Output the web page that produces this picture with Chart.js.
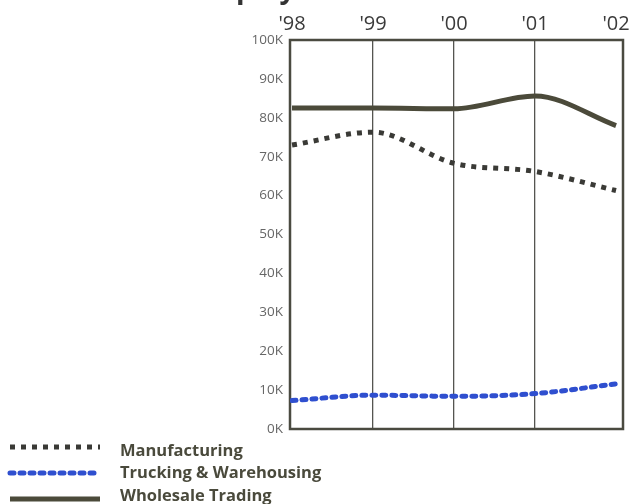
<!DOCTYPE html>
<html>
<head>
<meta charset="utf-8">
<script src="https://cdn.jsdelivr.net/npm/chart.js@4/dist/chart.umd.min.js"></script>
<style>
  html, body { margin: 0; padding: 0; background: #ffffff; }
  #chart { display: block; }
</style>
</head>
<body>
<canvas id="chart" width="640" height="504"></canvas>
<script>
// Employment by sector, 1998-2002
const years = [1998, 1999, 2000, 2001, 2002];
const yearLabels = ["'98", "'99", "'00", "'01", "'02"];
const seriesNames = ["Manufacturing", "Trucking & Warehousing", "Wholesale Trading"];
const manufacturing = [73000, 76300, 68300, 66200, 61300];
const trucking = [7300, 8700, 8400, 9100, 11600];
const wholesale = [82500, 82500, 82300, 85600, 78000];
const yTickValues = [0, 10000, 20000, 30000, 40000, 50000, 60000, 70000, 80000, 90000, 100000];

const toPoints = (vals) => vals.map((v, i) => ({ x: years[i], y: v }));

// Title sits above the canvas edge; only its descenders show
const titlePlugin = {
  id: 'cutTitle',
  afterDraw(chart) {
    const ctx = chart.ctx;
    ctx.save();
    ctx.font = 'bold 28px "Open Sans", sans-serif';
    ctx.fillStyle = '#333333';
    ctx.textBaseline = 'alphabetic';
    const x = 236 - ctx.measureText('Em').width;
    ctx.fillText('Employment', x, -2);
    ctx.restore();
  }
};

// Box around the plot area
const framePlugin = {
  id: 'frame',
  beforeDatasetsDraw(chart) {
    const a = chart.chartArea;
    const ctx = chart.ctx;
    ctx.save();
    ctx.strokeStyle = '#4a4a40';
    ctx.lineWidth = 2.5;
    ctx.strokeRect(a.left, a.top, a.right - a.left, a.bottom - a.top);
    ctx.restore();
  }
};

// Legend below the plot, left aligned, with line samples
const legendPlugin = {
  id: 'lineLegend',
  afterDraw(chart) {
    const ctx = chart.ctx;
    const lineY = [447, 473, 499];
    const textY = [451, 473, 496];
    chart.data.datasets.forEach((ds, i) => {
      ctx.save();
      ctx.strokeStyle = ds.borderColor;
      ctx.lineWidth = ds.borderWidth;
      ctx.lineCap = ds.borderCapStyle || 'butt';
      ctx.setLineDash(ds.borderDash || []);
      ctx.beginPath();
      ctx.moveTo(10, lineY[i]);
      ctx.lineTo(100, lineY[i]);
      ctx.stroke();
      ctx.setLineDash([]);
      ctx.font = 'bold 16.5px "Open Sans", sans-serif';
      ctx.fillStyle = '#4a4a3c';
      ctx.textBaseline = 'middle';
      ctx.textAlign = 'left';
      ctx.fillText(ds.label, 120, textY[i]);
      ctx.restore();
    });
  }
};

new Chart(document.getElementById('chart'), {
  type: 'line',
  data: {
    datasets: [
      {
        label: seriesNames[0],
        data: toPoints(manufacturing),
        borderColor: '#3a3a36',
        borderWidth: 5,
        borderDash: [5, 6],
        borderCapStyle: 'butt',
        cubicInterpolationMode: 'monotone',
        pointRadius: 0,
        fill: false
      },
      {
        label: seriesNames[1],
        data: toPoints(trucking),
        borderColor: '#2f4fcf',
        borderWidth: 5,
        borderDash: [4, 6],
        borderCapStyle: 'round',
        cubicInterpolationMode: 'monotone',
        pointRadius: 0,
        fill: false
      },
      {
        label: seriesNames[2],
        data: toPoints(wholesale),
        borderColor: '#4b4a3a',
        borderWidth: 5,
        borderCapStyle: 'butt',
        cubicInterpolationMode: 'monotone',
        pointRadius: 0,
        fill: false
      }
    ]
  },
  options: {
    responsive: false,
    animation: false,
    devicePixelRatio: 1,
    layout: { padding: { left: 0, right: 17, top: 0, bottom: 75 } },
    plugins: {
      legend: { display: false },
      tooltip: { enabled: false },
      title: { display: false }
    },
    scales: {
      x: {
        type: 'linear',
        position: 'top',
        min: 1997.975,
        max: 2002.086,
        afterBuildTicks(axis) { axis.ticks = years.map(v => ({ value: v })); },
        afterFit(axis) { axis.height = 40; },
        ticks: {
          callback: (v) => yearLabels[years.indexOf(v)],
          font: { family: '"Open Sans", sans-serif', size: 20 },
          color: '#3a3a3a',
          padding: 4,
          maxRotation: 0,
          autoSkip: false
        },
        grid: {
          drawTicks: false,
          lineWidth: 1.3,
          color: (c) => (c.tick && (c.tick.value === years[0] || c.tick.value === years[years.length - 1])) ? 'rgba(0,0,0,0)' : '#555550'
        },
        border: { display: false }
      },
      y: {
        min: 0,
        max: 100000,
        afterBuildTicks(axis) { axis.ticks = yTickValues.map(v => ({ value: v })); },
        afterFit(axis) { axis.width = 290; },
        ticks: {
          callback: (v) => (v / 1000) + 'K',
          font: { family: '"Open Sans", sans-serif', size: 13.5 },
          color: '#666666',
          padding: 7
        },
        grid: { display: false, drawTicks: false },
        border: { display: false }
      }
    }
  },
  plugins: [framePlugin, legendPlugin, titlePlugin]
});
</script>
</body>
</html>
